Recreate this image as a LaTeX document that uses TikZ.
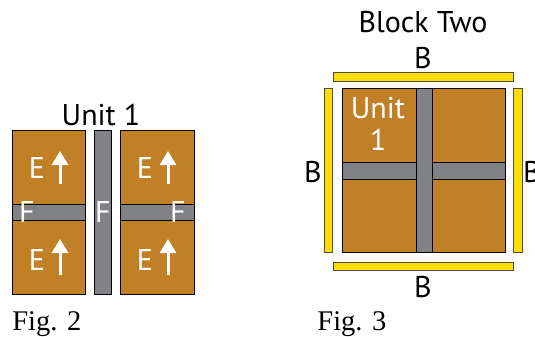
\documentclass[tikz,border=0pt]{standalone}
\usepackage{fontspec}
\setmainfont{Liberation Serif}
\newfontfamily\lblfont{PT Sans}
\usetikzlibrary{arrows.meta}
\definecolor{woodbrown}{RGB}{193,127,38}
\definecolor{bargray}{RGB}{128,130,133}
\definecolor{beamyellow}{RGB}{255,221,0}
\tikzset{
  every picture/.style={line width=0.8pt},
  panel/.style={draw,fill=woodbrown,rectangle,inner sep=0,anchor=north west},
  spline/.style={draw,fill=bargray,rectangle,inner sep=0,anchor=north west},
  beam/.style={draw=black!70,fill=beamyellow,rectangle,inner sep=0,anchor=north west},
  lbl/.style={font=\lblfont\fontsize{30}{32}\selectfont,inner sep=0},
  wlbl/.style={lbl,text=white},
  figcap/.style={font=\fontsize{28.5}{32}\selectfont,inner sep=0,anchor=base west},
  up/.style={white,line width=3pt,-{Triangle[length=14pt,width=16pt]}},
}
\begin{document}
\begin{tikzpicture}[x=1pt,y=-1pt]
\useasboundingbox (0,0) rectangle (535,337);
% Fig. 2 : unit 1 panels
\node[panel,minimum width=73pt,minimum height=164pt] (PL) at (12,130) {};
\node[spline,minimum width=73pt,minimum height=16pt] (SL) at (12,204) {};
\node[spline,minimum width=17pt,minimum height=164pt] (SM) at (94,130) {};
\node[panel,minimum width=74pt,minimum height=164pt] (PR) at (120,130) {};
\node[spline,minimum width=74pt,minimum height=16pt] (SR) at (120,204) {};
\node[lbl] (U1) at (101,115) {Unit 1};
% edge labels and grain arrows
\foreach \x/\n in {37/L,145/R}{
  \node[wlbl] (E\n t) at (\x,168) {E};
  \node[wlbl] (E\n b) at (\x,260) {E};
}
\foreach \x/\n in {60/L,168/R}{
  \coordinate (A\n t0) at (\x,184); \coordinate (A\n t1) at (\x,151);
  \coordinate (A\n b0) at (\x,275); \coordinate (A\n b1) at (\x,239);
  \draw[up] (A\n t0) -- (A\n t1);
  \draw[up] (A\n b0) -- (A\n b1);
}
\node[wlbl] (FL) at (27,212) {F};
\node[wlbl] (FM) at (103,212) {F};
\node[wlbl] (FR) at (178,212) {F};
\node[figcap] (C2) at (12,330) {Fig. 2};
% Fig. 3 : block two
\node[panel,minimum width=163pt,minimum height=164pt] (SQ) at (342,88) {};
\node[spline,minimum width=163pt,minimum height=17pt] (SH) at (342,162) {};
\node[spline,minimum width=16pt,minimum height=164pt] (SV) at (416,88) {};
\node[beam,minimum width=180pt,minimum height=9pt] (BT) at (333,72) {};
\node[beam,minimum width=180pt,minimum height=8pt] (BB) at (333,262) {};
\node[beam,minimum width=8pt,minimum height=164pt] (BL) at (324,88) {};
\node[beam,minimum width=9pt,minimum height=164pt] (BR) at (513,88) {};
\node[lbl] (LT) at (423,58) {B};
\node[lbl] (LB) at (423,287) {B};
\node[lbl] (LL) at (313,172) {B};
\node[lbl] (LR) at (532,172) {B};
\node[lbl] (BT2) at (423,22) {Block Two};
\node[wlbl,align=center] (U1b) at (378,124) {Unit\\1};
\node[figcap] (C3) at (317,330) {Fig. 3};
\end{tikzpicture}
\end{document}
